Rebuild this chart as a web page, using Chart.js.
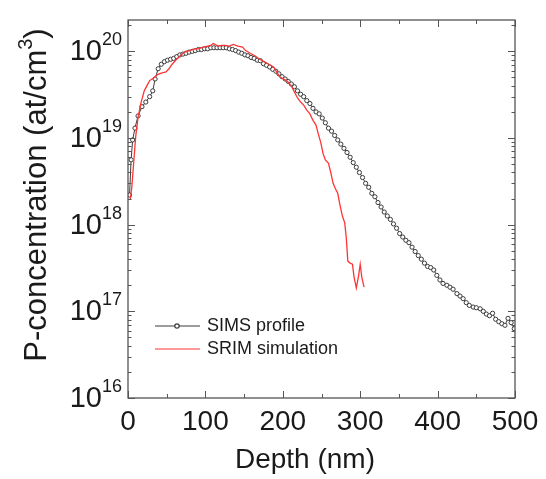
<!DOCTYPE html>
<html>
<head>
<meta charset="utf-8">
<script src="https://cdn.jsdelivr.net/npm/chart.js@4"></script>
<style>
    body { margin: 0; background: #fff; }
    canvas { display: block; }
</style>
</head>
<body>
<canvas id="chart" width="546" height="479"></canvas>
<script>
const simsDepth = [2, 4, 6, 9, 13, 18, 23, 28, 32, 35, 39, 43, 47, 51, 55, 59, 63, 67, 71, 75,
    79, 83, 87, 91, 95, 99, 103, 107, 111, 115, 119, 123, 127, 131, 135, 139, 143, 147, 151, 155,
    159, 163, 167, 171, 175, 179, 183, 187, 191, 195, 199, 203, 207, 211, 215, 219, 223, 227, 231, 235,
    239, 243, 247, 251, 255, 259, 263, 267, 271, 275, 279, 283, 287, 291, 295, 299, 303, 307, 311, 315,
    319, 323, 327, 331, 335, 339, 343, 347, 351, 355, 359, 363, 367, 371, 375, 379, 383, 387, 391, 395,
    399, 403, 407, 412, 416, 420, 425, 429, 433, 437, 441, 446, 450, 455, 459, 463, 467, 471, 475, 479,
    483, 487, 491, 495, 499];
const simsConc = [2.2e18, 5.6e18, 9.5e18, 1.3e19, 1.8e19, 2.3e19, 2.6e19, 3.0e19, 3.5e19, 4.8e19,
    6.3e19, 7.1e19, 7.6e19, 7.9e19, 8.1e19, 8.3e19, 8.7e19, 9.1e19, 9.3e19, 9.5e19,
    9.8e19, 1.0e20, 1.02e20, 1.05e20, 1.05e20, 1.07e20, 1.07e20, 1.1e20, 1.1e20, 1.1e20,
    1.1e20, 1.1e20, 1.1e20, 1.07e20, 1.05e20, 1.02e20, 9.8e19, 9.5e19, 9.1e19, 8.9e19,
    8.5e19, 8.3e19, 7.9e19, 7.8e19, 7.2e19, 6.9e19, 6.6e19, 6.2e19, 5.9e19, 5.5e19,
    5.1e19, 4.8e19, 4.5e19, 4.2e19, 3.9e19, 3.5e19, 3.2e19, 3.0e19, 2.7e19, 2.5e19,
    2.2e19, 2.0e19, 1.9e19, 1.7e19, 1.5e19, 1.3e19, 1.2e19, 1.07e19, 9.5e18, 8.5e18,
    7.6e18, 6.8e18, 6.0e18, 5.2e18, 4.6e18, 4.0e18, 3.5e18, 3.0e18, 2.7e18, 2.3e18,
    2.1e18, 1.8e18, 1.6e18, 1.4e18, 1.26e18, 1.15e18, 1.02e18, 9.1e17, 7.9e17, 7.2e17,
    6.6e17, 6.2e17, 5.5e17, 4.9e17, 4.4e17, 4.0e17, 3.6e17, 3.3e17, 3.2e17, 3.0e17,
    2.6e17, 2.3e17, 2.1e17, 2.0e17, 1.9e17, 1.8e17, 1.6e17, 1.5e17, 1.4e17, 1.26e17,
    1.17e17, 1.12e17, 1.1e17, 1.07e17, 1.0e17, 9.3e16, 8.9e16, 9.5e16, 8.1e16, 7.6e16,
    7.2e16, 6.9e16, 8.3e16, 7.4e16, 6.3e16];

const srimDepth = [3, 5, 8, 10, 13, 17, 21, 25, 28, 34, 38, 43, 49, 53, 57, 61, 65, 70, 75, 80,
    86, 91, 97, 103, 107, 110, 113, 116, 121, 126, 131, 136, 142, 148, 152, 158, 164, 170, 176, 182,
    188, 192, 196, 201, 205, 211, 215, 219, 223, 227, 231, 235, 239, 243, 246, 249, 252, 255, 259, 262,
    265, 268, 271, 274, 277, 280, 282, 284, 287, 290, 292, 295, 298, 300, 302, 305];
const srimConc = [1.95e18, 2.75e18, 6.2e18, 1.05e19, 1.74e19, 2.6e19, 3.5e19, 4.1e19, 4.6e19, 5.0e19,
    5.4e19, 5.6e19, 5.8e19, 6.3e19, 7.1e19, 7.8e19, 8.5e19, 9.3e19, 1.0e20, 1.02e20,
    1.07e20, 1.07e20, 1.12e20, 1.15e20, 1.17e20, 1.23e20, 1.2e20, 1.15e20, 1.17e20, 1.17e20,
    1.15e20, 1.2e20, 1.15e20, 1.12e20, 1.02e20, 9.5e19, 8.9e19, 8.1e19, 7.6e19, 7.1e19,
    6.6e19, 5.8e19, 5.1e19, 4.8e19, 4.6e19, 4.0e19, 3.4e19, 2.9e19, 2.6e19, 2.4e19,
    2.1e19, 1.9e19, 1.6e19, 1.4e19, 1.1e19, 8.9e18, 6.6e18, 5.6e18, 5.1e18, 4.0e18,
    3.0e18, 2.6e18, 2.3e18, 1.66e18, 1.26e18, 1.05e18, 7.1e17, 3.8e17, 3.6e17, 3.5e17,
    2.5e17, 1.86e17, 2.6e17, 3.5e17, 2.5e17, 1.9e17];

const xTicks = [0, 100, 200, 300, 400, 500];
const xMinorTicks = [50, 150, 250, 350, 450];
const yExponents = [16, 17, 18, 19, 20];
const seriesNames = ["SIMS profile", "SRIM simulation"];

const colors = {
    text: "#1a1a1a",
    frame: "#555555",
    sims: "#3a3a3a",
    srim: "#ff3535",
};
const fontFamily = "'Liberation Sans', Arial, sans-serif";

const toPoints = (xs, ys) => xs.map((x, i) => ({ x: x, y: ys[i] }));

// frame, inward ticks, tick labels, axis titles and legend
const decorPlugin = {
    id: "decor",
    afterDatasetsDraw(chart) {
	const ctx = chart.ctx;
	const area = chart.chartArea;
	const xs = chart.scales.x;
	const ys = chart.scales.y;
	ctx.save();

	ctx.strokeStyle = colors.frame;
	ctx.lineWidth = 1.3;
	ctx.strokeRect(area.left, area.top, area.right - area.left, area.bottom - area.top);

	ctx.lineWidth = 1;
	ctx.beginPath();
	const xTick = (v, len) => {
	    const px = Math.round(xs.getPixelForValue(v)) + 0.5;
	    ctx.moveTo(px, area.bottom); ctx.lineTo(px, area.bottom - len);
	    ctx.moveTo(px, area.top); ctx.lineTo(px, area.top + len);
	};
	xTicks.forEach(v => xTick(v, 7));
	xMinorTicks.forEach(v => xTick(v, 4));

	const yTick = (v, len) => {
	    const py = Math.round(ys.getPixelForValue(v)) + 0.5;
	    if (py < area.top || py > area.bottom + 1) return;
	    ctx.moveTo(area.left, py); ctx.lineTo(area.left + len, py);
	    ctx.moveTo(area.right, py); ctx.lineTo(area.right - len, py);
	};
	yExponents.forEach(e => {
	    yTick(Math.pow(10, e), 7);
	    for (let m = 2; m <= 9; m++) yTick(m * Math.pow(10, e), 3.5);
	});
	ctx.stroke();

	ctx.fillStyle = colors.text;
	ctx.textBaseline = "middle";

	// x tick labels
	ctx.font = `28px ${fontFamily}`;
	ctx.textAlign = "center";
	xTicks.forEach(v => ctx.fillText(String(v), xs.getPixelForValue(v), 422));

	// y tick labels 10^n
	yExponents.forEach(e => {
	    const py = ys.getPixelForValue(Math.pow(10, e));
	    ctx.font = `29px ${fontFamily}`;
	    ctx.textAlign = "right";
	    ctx.fillText("10", 102, py + 1);
	    ctx.font = `18px ${fontFamily}`;
	    ctx.textAlign = "left";
	    ctx.fillText(String(e), 102, py - 11);
	});

	// x title
	ctx.font = `28px ${fontFamily}`;
	ctx.textAlign = "center";
	ctx.fillText("Depth (nm)", 305, 460);

	// y title, with superscript 3
	ctx.save();
	ctx.translate(37, 195);
	ctx.rotate(-Math.PI / 2);
	const main = "P-concentration (at/cm";
	ctx.font = `31px ${fontFamily}`;
	const w1 = ctx.measureText(main).width;
	const w3 = ctx.measureText(")").width;
	ctx.font = `20px ${fontFamily}`;
	const w2 = ctx.measureText("3").width;
	let x0 = -(w1 + w2 + w3) / 2;
	ctx.textAlign = "left";
	ctx.font = `31px ${fontFamily}`;
	ctx.fillText(main, x0, 0);
	ctx.font = `20px ${fontFamily}`;
	ctx.fillText("3", x0 + w1, -11);
	ctx.font = `31px ${fontFamily}`;
	ctx.fillText(")", x0 + w1 + w2, 0);
	ctx.restore();

	// legend
	const lx1 = 155, lx2 = 200;
	ctx.lineWidth = 1.2;
	ctx.strokeStyle = colors.sims;
	ctx.beginPath(); ctx.moveTo(lx1, 326); ctx.lineTo(lx2, 326); ctx.stroke();
	ctx.fillStyle = "#fff";
	ctx.beginPath(); ctx.arc(177, 326, 2.2, 0, Math.PI * 2); ctx.fill(); ctx.stroke();
	ctx.strokeStyle = colors.srim;
	ctx.beginPath(); ctx.moveTo(lx1, 349); ctx.lineTo(lx2, 349); ctx.stroke();
	ctx.fillStyle = colors.text;
	ctx.font = `18px ${fontFamily}`;
	ctx.textAlign = "left";
	ctx.fillText(seriesNames[0], 207, 326);
	ctx.fillText(seriesNames[1], 207, 349);

	ctx.restore();
    }
};

new Chart(document.getElementById("chart"), {
    type: "scatter",
    plugins: [decorPlugin],
    data: {
	datasets: [
	    {
		label: seriesNames[1],
		data: toPoints(srimDepth, srimConc),
		showLine: true,
		borderColor: colors.srim,
		borderWidth: 1.3,
		pointRadius: 0,
		order: 0,
	    },
	    {
		label: seriesNames[0],
		data: toPoints(simsDepth, simsConc),
		showLine: true,
		borderColor: colors.sims,
		borderWidth: 1,
		pointRadius: 2.1,
		pointBorderWidth: 1,
		pointBorderColor: colors.sims,
		pointBackgroundColor: "#ffffff",
		order: 1,
	    },
	],
    },
    options: {
	responsive: false,
	animation: false,
	layout: { padding: { top: 20, right: 31, left: 0, bottom: 0 } },
	plugins: { legend: { display: false }, tooltip: { enabled: false } },
	scales: {
	    x: {
		type: "linear", min: 0, max: 500,
		grid: { display: false },
		border: { display: false },
		ticks: { display: false },
		afterFit: (scale) => { scale.height = 81; },
	    },
	    y: {
		type: "logarithmic", min: 1e16, max: 2.3e20,
		grid: { display: false },
		border: { display: false },
		ticks: { display: false },
		afterFit: (scale) => { scale.width = 128; },
	    },
	},
    },
});
</script>
</body>
</html>
